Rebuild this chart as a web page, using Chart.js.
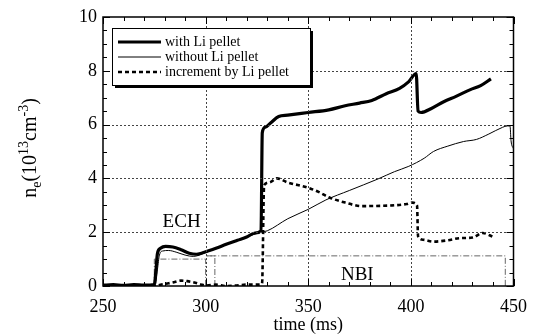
<!DOCTYPE html>
<html>
<head>
<meta charset="utf-8">
<script src="https://cdn.jsdelivr.net/npm/chart.js@4.4.0/dist/chart.umd.min.js"></script>
<style>
html, body { margin: 0; padding: 0; background: #fff; }
</style>
</head>
<body>
<canvas id="neChart" width="537" height="336"></canvas>
<script>
// time (ms) / density (10^13 cm^-3)
var withTime = [250, 255, 260, 265, 270, 275, 275.8, 276.5, 278, 280.5, 284, 288, 292, 295.5, 298, 300, 305, 310, 315.5, 320, 324, 327,
    327.6, 329, 331.5, 335.6, 340, 350, 360, 368, 375, 381, 388, 394.5, 399, 402.6,
    403.5, 405, 410, 416, 422, 429, 434, 439];
var withNe = [0.03, 0.05, 0.02, 0.05, 0.03, 0.05, 0.6, 1.2, 1.4, 1.47, 1.45, 1.35, 1.22, 1.18, 1.22, 1.27, 1.4, 1.55, 1.7, 1.82, 1.97, 2.05,
    5.7, 5.9, 6.05, 6.3, 6.35, 6.45, 6.55, 6.7, 6.8, 6.9, 7.15, 7.35, 7.6, 7.9,
    6.5, 6.45, 6.6, 6.85, 7.05, 7.3, 7.45, 7.7];

var withoutTime = [250, 260, 270, 275.5, 276.5, 277.5, 279, 282, 286, 290, 294, 297, 300, 305, 310, 315, 320, 327,
    330, 340, 350, 358.6, 370, 384, 392, 399, 406.5, 411, 418, 425.6, 432, 438, 444.7, 447, 448.3, 448.8, 450];
var withoutNe = [0.03, 0.03, 0.03, 0.05, 0.6, 1.15, 1.3, 1.32, 1.25, 1.15, 1.1, 1.15, 1.25, 1.38, 1.53, 1.68, 1.82, 2.0,
    2.05, 2.5, 2.85, 3.2, 3.55, 3.98, 4.25, 4.45, 4.75, 5.0, 5.2, 5.37, 5.45, 5.65, 5.9, 5.95, 5.95, 5.4, 5.1];

var incTime = [250, 276, 278, 282, 285, 288, 291, 295, 298, 300, 305, 310, 315, 320, 326, 327.5,
    328.5, 331, 334.7, 340, 350, 355, 360, 368, 376, 385, 392, 398, 400.7, 403,
    403.5, 406, 411, 418, 424, 430, 435, 440];
var incNe = [0, 0, 0.05, 0.1, 0.15, 0.2, 0.18, 0.12, 0.05, 0.02, 0.05, 0.0, 0.02, 0.05, 0.05, 0.1,
    3.75, 3.85, 4.0, 3.85, 3.65, 3.5, 3.3, 3.1, 2.97, 2.98, 3.0, 3.05, 3.1, 3.0,
    1.85, 1.72, 1.65, 1.7, 1.78, 1.8, 1.97, 1.83];

// heating windows
var echTime = [275, 275, 300, 300];
var echNe = [0, 1.0, 1.0, 0];
var nbiTime = [304.5, 304.5, 300, 446, 446];
var nbiNe = [0, 1.12, 1.12, 1.12, 0];

var seriesNames = ['with Li pellet', 'without Li pellet', 'increment by Li pellet'];
var xTicks = [250, 300, 350, 400, 450];
var yTicks = [0, 2, 4, 6, 8, 10];

function pts(ts, vs) {
    return ts.map(function (t, i) { return { x: t, y: vs[i] }; });
}

var serif = '"Liberation Serif", "Times New Roman", serif';

var decor = {
    id: 'decor',
    afterDatasetsDraw: function (chart) {
        var ctx = chart.ctx, a = chart.chartArea, xs = chart.scales.x, ys = chart.scales.y;
        var t, len, px, py;
        ctx.save();
        // dotted grid at the interior major ticks
        ctx.strokeStyle = '#444';
        ctx.lineWidth = 1;
        ctx.setLineDash([2, 2]);
        for (t = 300; t <= 400; t += 50) {
            px = Math.round(xs.getPixelForValue(t)) + 0.5;
            ctx.beginPath(); ctx.moveTo(px, a.top + 1); ctx.lineTo(px, a.bottom - 1); ctx.stroke();
        }
        for (t = 2; t <= 8; t += 2) {
            py = Math.round(ys.getPixelForValue(t)) + 0.5;
            ctx.beginPath(); ctx.moveTo(a.left + 1, py); ctx.lineTo(a.right - 1, py); ctx.stroke();
        }
        ctx.setLineDash([]);

        // frame
        ctx.strokeStyle = '#000';
        ctx.lineWidth = 1.5;
        ctx.strokeRect(a.left, a.top, a.right - a.left, a.bottom - a.top);

        // inward ticks on all four sides
        ctx.lineWidth = 1;
        for (t = 250; t <= 450; t += 10) {
            len = (t % 50 === 0) ? 7 : 4;
            px = Math.round(xs.getPixelForValue(t)) + 0.5;
            ctx.beginPath();
            ctx.moveTo(px, a.bottom); ctx.lineTo(px, a.bottom - len);
            ctx.moveTo(px, a.top); ctx.lineTo(px, a.top + len);
            ctx.stroke();
        }
        for (t = 0; t <= 10; t += 0.5) {
            len = (t % 2 === 0) ? 7 : 4;
            py = Math.round(ys.getPixelForValue(t)) + 0.5;
            ctx.beginPath();
            ctx.moveTo(a.left, py); ctx.lineTo(a.left + len, py);
            ctx.moveTo(a.right, py); ctx.lineTo(a.right - len, py);
            ctx.stroke();
        }

        // heating labels
        ctx.fillStyle = '#000';
        ctx.font = '19px ' + serif;
        ctx.textAlign = 'center';
        ctx.textBaseline = 'middle';
        ctx.fillText('ECH', xs.getPixelForValue(288.3), ys.getPixelForValue(2.38));
        ctx.fillText('NBI', xs.getPixelForValue(373.9), ys.getPixelForValue(0.42));

        // legend box with drop shadow
        var bx = 112, by = 28, bw = 198, bh = 57;
        ctx.fillStyle = '#000';
        ctx.fillRect(bx + 3, by + 3, bw, bh);
        ctx.fillStyle = '#fff';
        ctx.fillRect(bx, by, bw, bh);
        ctx.lineWidth = 1;
        ctx.strokeStyle = '#000';
        ctx.strokeRect(bx + 0.5, by + 0.5, bw, bh);
        ctx.font = '14px ' + serif;
        ctx.textAlign = 'left';
        ctx.fillStyle = '#000';
        chart.data.datasets.slice(0, 3).forEach(function (ds, i) {
            var ly = by + 14 + i * 15;
            ctx.save();
            ctx.lineWidth = ds.borderWidth;
            ctx.setLineDash(ds.borderDash || []);
            ctx.beginPath(); ctx.moveTo(bx + 6, ly); ctx.lineTo(bx + 49, ly); ctx.stroke();
            ctx.restore();
            ctx.fillText(ds.label, bx + 53, ly);
        });

        // y-axis title with sub/superscripts
        var parts = [
            ['n', 20, 0], ['e', 14, 5], ['(10', 20, 0], ['13', 14, -8],
            ['cm', 20, 0], ['-3', 14, -8], [')', 20, 0]
        ];
        var total = 0;
        parts.forEach(function (p) { ctx.font = p[1] + 'px ' + serif; total += ctx.measureText(p[0]).width; });
        ctx.translate(36, 148);
        ctx.rotate(-Math.PI / 2);
        ctx.textBaseline = 'alphabetic';
        var cx = -total / 2;
        parts.forEach(function (p) {
            ctx.font = p[1] + 'px ' + serif;
            ctx.fillText(p[0], cx, p[2]);
            cx += ctx.measureText(p[0]).width;
        });
        ctx.restore();
    }
};

var ctx = document.getElementById('neChart').getContext('2d');
var neChart = new Chart(ctx, {
    type: 'line',
    data: {
        datasets: [{
            label: seriesNames[0],
            data: pts(withTime, withNe),
            borderColor: '#000',
            borderWidth: 3.2,
            pointRadius: 0,
            cubicInterpolationMode: 'monotone'
        }, {
            label: seriesNames[1],
            data: pts(withoutTime, withoutNe),
            borderColor: '#000',
            borderWidth: 1,
            pointRadius: 0,
            cubicInterpolationMode: 'monotone'
        }, {
            label: seriesNames[2],
            data: pts(incTime, incNe),
            borderColor: '#000',
            borderWidth: 2.6,
            borderDash: [4, 3],
            pointRadius: 0,
            cubicInterpolationMode: 'monotone'
        }, {
            label: 'ECH',
            data: pts(echTime, echNe),
            borderColor: '#666',
            borderWidth: 1,
            borderDash: [6, 2, 1, 2],
            pointRadius: 0
        }, {
            label: 'NBI',
            data: pts(nbiTime, nbiNe),
            borderColor: '#666',
            borderWidth: 1,
            borderDash: [6, 2, 1, 2],
            pointRadius: 0
        }]
    },
    options: {
        responsive: false,
        animation: false,
        layout: { padding: { top: 17, right: 16, left: 0, bottom: 0 } },
        plugins: {
            legend: { display: false },
            tooltip: { enabled: false }
        },
        scales: {
            x: {
                type: 'linear',
                min: 250,
                max: 450,
                afterFit: function (s) { s.height = 50; },
                afterBuildTicks: function (s) { s.ticks = xTicks.map(function (v) { return { value: v }; }); },
                ticks: { color: '#000', padding: 10, font: { family: serif, size: 18 } },
                grid: { display: false, drawTicks: false },
                border: { display: false },
                title: { display: true, text: 'time (ms)', color: '#000', padding: 0, font: { family: serif, size: 18 } }
            },
            y: {
                min: 0,
                max: 10,
                afterFit: function (s) { s.width = 103; },
                afterBuildTicks: function (s) { s.ticks = yTicks.map(function (v) { return { value: v }; }); },
                ticks: { color: '#000', padding: 6, font: { family: serif, size: 18 } },
                grid: { display: false, drawTicks: false },
                border: { display: false }
            }
        }
    },
    plugins: [decor]
});
</script>
</body>
</html>
